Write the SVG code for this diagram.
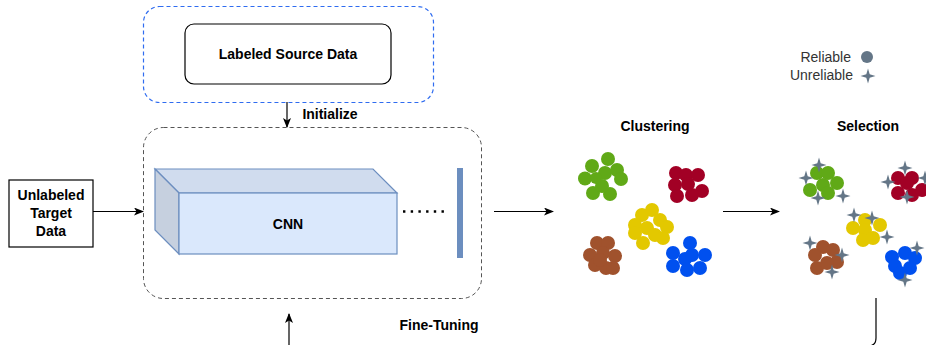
<svg xmlns="http://www.w3.org/2000/svg" xmlns:xlink="http://www.w3.org/1999/xlink" width="926" height="345" viewBox="0 0 926 345">
<style>
.lbl{font-family:"Liberation Sans",Arial,sans-serif;font-size:14px;font-weight:bold;fill:#000;text-anchor:middle}
.leg{font-family:"Liberation Sans",Arial,sans-serif;font-size:14px;fill:#333;text-anchor:end}
.edge{fill:none;stroke:#000;stroke-width:1.2}
.g circle{fill:#60a917}
.r circle{fill:#a20025}
.y circle{fill:#e3c800}
.b circle{fill:#a0522d}
.u circle{fill:#0050ef}
.star{fill:#647687}
</style>
<defs>
<marker id="ah" markerWidth="10" markerHeight="8" refX="9" refY="4" orient="auto" markerUnits="userSpaceOnUse">
<path d="M0,0 L10,4 L0,8 L2.5,4 Z" fill="#000"/>
</marker>
<path id="st" class="star" d="M0,-7.5 L1.7,-1.7 L7.5,0 L1.7,1.7 L0,7.5 L-1.7,1.7 L-7.5,0 L-1.7,-1.7 Z"/>
</defs>

<g id="source-container">
<rect x="143.5" y="6.5" width="290" height="96" rx="16" fill="none" stroke="#2f6cf0" stroke-width="1.2" stroke-dasharray="4 3"/>
</g>
<g id="labeled-source">
<rect x="185" y="24" width="206" height="60" rx="9" fill="#fff" stroke="#000" stroke-width="1.2"/>
<text class="lbl" x="288" y="59">Labeled Source Data</text>
</g>
<g id="model-container">
<rect x="143.5" y="127.5" width="338" height="171" rx="20" fill="none" stroke="#555" stroke-width="1" stroke-dasharray="4 3"/>
</g>
<g id="cnn">
<polygon points="155,169 373,169 397,193 179,193" fill="#d0dcee" stroke="#6c8ebf" stroke-width="1.2"/>
<polygon points="155,169 179,193 179,254 155,230" fill="#c6d0df" stroke="#6c8ebf" stroke-width="1.2"/>
<rect x="179" y="193" width="218" height="61" fill="#dae8fc" stroke="#6c8ebf" stroke-width="1.2"/>
<text class="lbl" x="288" y="229">CNN</text>
</g>
<g id="feature-dots">
<line x1="403" y1="211.5" x2="444" y2="211.5" stroke="#000" stroke-width="2.4" stroke-dasharray="2.4 5.3"/>
</g>
<g id="feature-layer">
<rect x="457" y="168" width="6" height="90" fill="#6c8ebf"/>
</g>
<g id="unlabeled-target">
<rect x="9" y="180" width="84" height="67" fill="#fff" stroke="#000" stroke-width="1.2"/>
<text class="lbl" x="51" y="200">Unlabeled</text>
<text class="lbl" x="51" y="218">Target</text>
<text class="lbl" x="51" y="236">Data</text>
</g>

<g id="clustering">
<text class="lbl" x="655" y="131">Clustering</text>
<g class="g">
<circle cx="592" cy="166" r="7"/><circle cx="608" cy="159" r="7"/><circle cx="617" cy="170" r="7"/><circle cx="585" cy="178.5" r="7"/><circle cx="621" cy="179" r="7"/><circle cx="593" cy="193" r="7"/><circle cx="610" cy="194" r="7"/><circle cx="602" cy="186" r="7"/><circle cx="605" cy="173" r="7"/><circle cx="596" cy="178" r="6"/>
</g>
<g class="r">
<circle cx="676" cy="173" r="7"/><circle cx="686" cy="175" r="7"/><circle cx="698" cy="175" r="7"/><circle cx="675" cy="185" r="7"/><circle cx="702" cy="191" r="7"/><circle cx="677" cy="196" r="7"/><circle cx="692" cy="195" r="7"/><circle cx="688" cy="184" r="7"/>
</g>
<g class="y">
<circle cx="642" cy="215" r="7"/><circle cx="652" cy="210" r="7"/><circle cx="660" cy="220" r="7"/><circle cx="667" cy="227" r="7"/><circle cx="635" cy="225" r="7"/><circle cx="635" cy="233" r="7"/><circle cx="647" cy="228" r="7"/><circle cx="655" cy="235" r="7"/><circle cx="663" cy="238" r="7"/><circle cx="643" cy="243" r="7"/>
</g>
<g class="b">
<circle cx="597" cy="243" r="7"/><circle cx="608" cy="243" r="7"/><circle cx="590" cy="255" r="7"/><circle cx="603" cy="253" r="7"/><circle cx="615" cy="256" r="7"/><circle cx="595" cy="265" r="7"/><circle cx="606" cy="268" r="7"/><circle cx="613" cy="268" r="7"/><circle cx="600" cy="260" r="7"/>
</g>
<g class="u">
<circle cx="690" cy="243" r="7"/><circle cx="673" cy="253" r="7"/><circle cx="685" cy="259" r="7"/><circle cx="705" cy="255" r="7"/><circle cx="673" cy="266" r="7"/><circle cx="687" cy="270" r="7"/><circle cx="700" cy="268" r="7"/><circle cx="692" cy="255" r="7"/>
</g>
</g>

<g id="selection">
<text class="lbl" x="868" y="131">Selection</text>
<g class="g">
<circle cx="817" cy="173" r="7"/><circle cx="828" cy="173" r="7"/><circle cx="837" cy="183" r="7"/><circle cx="810" cy="190" r="7"/><circle cx="823" cy="185" r="7"/><circle cx="828" cy="193" r="7"/>
</g>
<use href="#st" x="819" y="165"/><use href="#st" x="806" y="178"/><use href="#st" x="818" y="198"/><use href="#st" x="843" y="196"/>
<g class="r">
<circle cx="898" cy="178" r="7"/><circle cx="912" cy="178" r="7"/><circle cx="898" cy="193" r="7"/><circle cx="912" cy="195" r="7"/><circle cx="922" cy="190" r="7"/><circle cx="907" cy="183" r="7"/>
</g>
<use href="#st" x="905" y="168"/><use href="#st" x="888" y="182"/><use href="#st" x="907" y="197"/><use href="#st" x="925" y="178"/>
<g class="y">
<circle cx="865" cy="220" r="7"/><circle cx="880" cy="225" r="7"/><circle cx="853" cy="228" r="7"/><circle cx="865" cy="230" r="7"/><circle cx="863" cy="240" r="7"/><circle cx="873" cy="238" r="7"/>
</g>
<use href="#st" x="854" y="215"/><use href="#st" x="872" y="218"/><use href="#st" x="887" y="237"/>
<g class="b">
<circle cx="823" cy="247" r="7"/><circle cx="833" cy="250" r="7"/><circle cx="815" cy="255" r="7"/><circle cx="837" cy="262" r="7"/><circle cx="817" cy="268" r="7"/><circle cx="827" cy="263" r="7"/>
</g>
<use href="#st" x="810" y="243"/><use href="#st" x="842" y="255"/><use href="#st" x="832" y="272"/>
<g class="u">
<circle cx="892" cy="257" r="7"/><circle cx="905" cy="253" r="7"/><circle cx="915" cy="258" r="7"/><circle cx="895" cy="266" r="7"/><circle cx="910" cy="268" r="7"/><circle cx="900" cy="273" r="7"/>
</g>
<use href="#st" x="917" y="248"/><use href="#st" x="905" y="280"/>
</g>

<g id="legend">
<text class="leg" x="851" y="62">Reliable</text>
<circle cx="867" cy="57" r="6" fill="#647687"/>
<text class="leg" x="853" y="80">Unreliable</text>
<use href="#st" x="868" y="76"/>
</g>

<g id="connectors">
<line class="edge" x1="287" y1="102" x2="287" y2="127" marker-end="url(#ah)"/>
<text class="lbl" x="330" y="119">Initialize</text>
<line class="edge" x1="93" y1="211.5" x2="143" y2="211.5" marker-end="url(#ah)"/>
<line class="edge" x1="494" y1="211.5" x2="553" y2="211.5" marker-end="url(#ah)"/>
<line class="edge" x1="723" y1="211.5" x2="779" y2="211.5" marker-end="url(#ah)"/>
<path class="edge" d="M876,298 V338 Q876,346 868,346 H289 V314" marker-end="url(#ah)"/>
<text class="lbl" x="439" y="330">Fine-Tuning</text>
</g>
</svg>
